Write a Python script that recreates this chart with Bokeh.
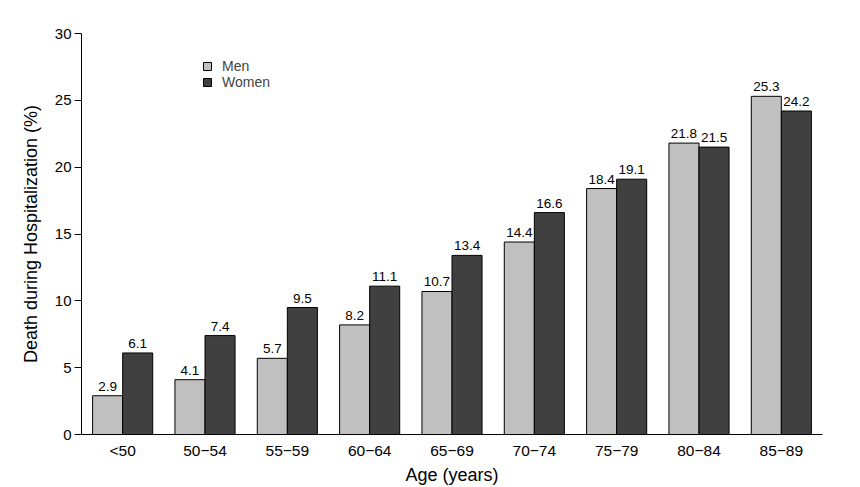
from bokeh.plotting import figure
from bokeh.models import ColumnDataSource, FixedTicker, Legend, LegendItem, LabelSet, Range1d
from bokeh.transform import dodge
from bokeh.core.properties import value
from bokeh.embed import file_html
from bokeh.resources import INLINE

age_groups = ["<50", "50\u221254", "55\u221259", "60\u221264", "65\u221269", "70\u221274", "75\u221279", "80\u221284", "85\u221289"]
men = [2.9, 4.1, 5.7, 8.2, 10.7, 14.4, 18.4, 21.8, 25.3]
women = [6.1, 7.4, 9.5, 11.1, 13.4, 16.6, 19.1, 21.5, 24.2]
y_ticks = [0, 5, 10, 15, 20, 25, 30]

FONT = "Liberation Sans"
MEN_COLOR = "#c0c0c0"
WOMEN_COLOR = "#404040"

idx = list(range(len(age_groups)))
src = ColumnDataSource(data=dict(
    x=idx, men=men, women=women,
    men_lbl=[f"{v:.1f}" for v in men],
    women_lbl=[f"{v:.1f}" for v in women],
))

p = figure(width=844, height=487, output_backend="svg", toolbar_location=None,
           x_range=Range1d(-0.5, len(age_groups) - 0.5), y_range=Range1d(0, 30),
           min_border_left=81, min_border_right=22, min_border_top=33, min_border_bottom=53)
p.outline_line_color = None
p.xgrid.grid_line_color = None
p.ygrid.grid_line_color = None
p.background_fill_color = "white"
p.border_fill_color = "white"

off = 0.1825
bw = 0.365
r_men = p.vbar(x=dodge("x", -off), top="men", width=bw, source=src,
               fill_color=MEN_COLOR, line_color="black", line_width=1)
r_women = p.vbar(x=dodge("x", off), top="women", width=bw, source=src,
                 fill_color=WOMEN_COLOR, line_color="black", line_width=1)

for col, lbl, o in (("men", "men_lbl", -off), ("women", "women_lbl", off)):
    ls = LabelSet(x=dodge("x", o), y=col, text=lbl, source=src,
                  text_align="center", text_baseline="bottom", y_offset=5,
                  text_font=value(FONT), text_font_size=value("13.5px"),
                  text_color="black")
    p.add_layout(ls)

# axes
p.yaxis.ticker = FixedTicker(ticks=y_ticks)
p.yaxis.minor_tick_line_color = None
p.yaxis.major_tick_out = 7
p.yaxis.major_tick_in = 0
p.yaxis.major_label_standoff = 3
p.yaxis.major_label_text_font = FONT
p.yaxis.major_label_text_font_size = "15px"
p.yaxis.axis_label = "Death during Hospitalization (%)"
p.yaxis.axis_label_text_font = FONT
p.yaxis.axis_label_text_font_size = "18px"
p.yaxis.axis_label_text_font_style = "normal"
p.yaxis.axis_label_standoff = 11

p.xaxis.ticker = FixedTicker(ticks=idx)
p.xaxis.major_label_overrides = {i: g for i, g in zip(idx, age_groups)}
p.xaxis.minor_tick_line_color = None
p.xaxis.major_tick_line_color = None
p.xaxis.major_tick_out = 0
p.xaxis.major_tick_in = 0
p.xaxis.major_label_standoff = 7
p.xaxis.major_label_text_font = FONT
p.xaxis.major_label_text_font_size = "15.5px"
p.xaxis.axis_label = "Age (years)"
p.xaxis.axis_label_text_font = FONT
p.xaxis.axis_label_text_font_size = "18px"
p.xaxis.axis_label_text_font_style = "normal"
p.xaxis.axis_label_standoff = 3

for ax in (p.xaxis, p.yaxis):
    ax.axis_line_color = "black"
    ax.axis_line_width = 1
    ax.major_label_text_color = "black"
    ax.axis_label_text_color = "black"

legend = Legend(items=[LegendItem(label="Men", renderers=[r_men]),
                       LegendItem(label="Women", renderers=[r_women])],
                location=(121, 344), orientation="vertical",
                glyph_width=10, glyph_height=10, label_height=15, label_width=20,
                spacing=-1, padding=0, margin=0, label_standoff=10,
                label_text_font=FONT, label_text_font_size="14px",
                border_line_color=None, background_fill_alpha=0)
p.add_layout(legend, "center")

open("out.html", "w").write(file_html(p, INLINE))
